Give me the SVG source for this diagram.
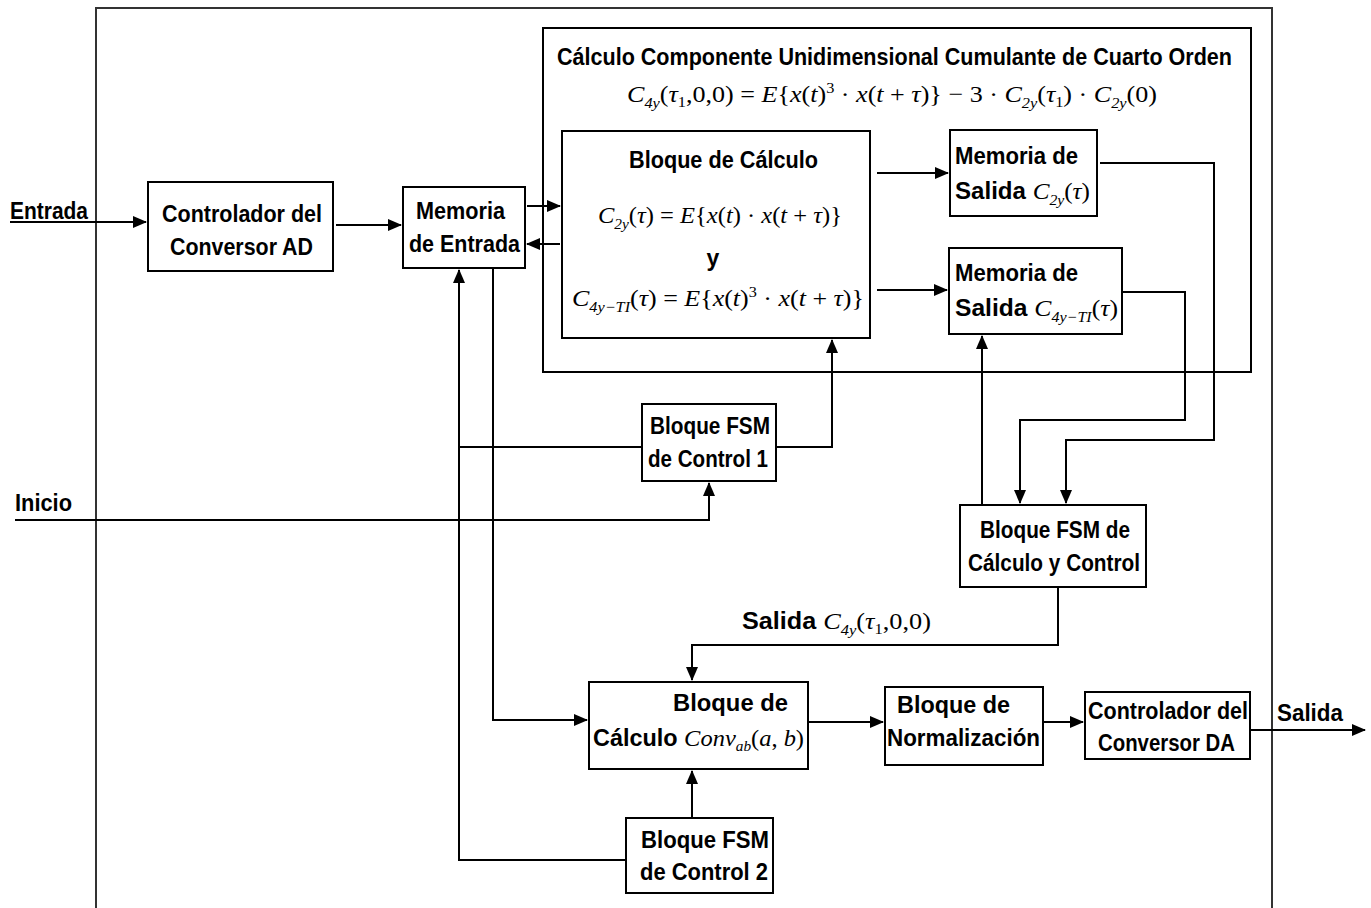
<svg xmlns="http://www.w3.org/2000/svg" width="1371" height="908" viewBox="0 0 1371 908">
<style>
.box{fill:#fff;stroke:#000;stroke-width:2}
.frame{fill:none;stroke:#333;stroke-width:2}
.c{fill:none;stroke:#000;stroke-width:2}
.t{font-family:"Liberation Sans","Arial Narrow",sans-serif;font-weight:bold;font-size:23px;fill:#000}
.m{font-family:"Liberation Serif","Times New Roman",serif;font-size:24px;font-weight:normal;fill:#000}
.i{font-style:italic;font-weight:normal}
.s{font-family:"Liberation Serif","Times New Roman",serif;font-size:15px;font-style:italic;font-weight:normal}
.sn{font-family:"Liberation Serif","Times New Roman",serif;font-size:15px;font-style:normal;font-weight:normal}
</style>
<defs>
<marker id="ah" markerUnits="userSpaceOnUse" markerWidth="14" markerHeight="12" refX="13" refY="6" orient="auto">
<path d="M0,0 L14,6 L0,12 Z" fill="#000"/>
</marker>
</defs>
<rect width="1371" height="908" fill="#fff"/>
<path class="frame" d="M96,908 V8 H1272 V908"/>
<g id="grupo-cumulante">
<rect class="box" x="543" y="28" width="708" height="344"/>
<text class="t" x="557" y="65" textLength="675" lengthAdjust="spacingAndGlyphs">Cálculo Componente Unidimensional Cumulante de Cuarto Orden</text>
<text class="m" x="627" y="102" textLength="530" lengthAdjust="spacingAndGlyphs"><tspan class="i">C</tspan><tspan class="s" dy="6">4y</tspan><tspan dy="-6">(</tspan><tspan class="i">τ</tspan><tspan class="sn" dy="5">1</tspan><tspan dy="-5">,0,0) = </tspan><tspan class="i">E</tspan><tspan>{</tspan><tspan class="i">x</tspan><tspan>(</tspan><tspan class="i">t</tspan><tspan>)</tspan><tspan class="sn" dy="-9">3</tspan><tspan dy="9"> · </tspan><tspan class="i">x</tspan><tspan>(</tspan><tspan class="i">t</tspan><tspan> + </tspan><tspan class="i">τ</tspan><tspan>)} − 3 · </tspan><tspan class="i">C</tspan><tspan class="s" dy="6">2y</tspan><tspan dy="-6">(</tspan><tspan class="i">τ</tspan><tspan class="sn" dy="5">1</tspan><tspan dy="-5">) · </tspan><tspan class="i">C</tspan><tspan class="s" dy="6">2y</tspan><tspan dy="-6">(0)</tspan></text>
</g>
<g id="controlador-ad">
<rect class="box" x="148" y="182" width="185" height="89"/>
<text class="t" x="162" y="222" textLength="160" lengthAdjust="spacingAndGlyphs">Controlador del</text>
<text class="t" x="170" y="255" textLength="143" lengthAdjust="spacingAndGlyphs">Conversor AD</text>
</g>
<g id="memoria-entrada">
<rect class="box" x="403" y="187" width="122" height="81"/>
<text class="t" x="416" y="219" textLength="89" lengthAdjust="spacingAndGlyphs">Memoria</text>
<text class="t" x="409" y="252" textLength="111" lengthAdjust="spacingAndGlyphs">de Entrada</text>
</g>
<g id="bloque-calculo">
<rect class="box" x="562" y="131" width="308" height="207"/>
<text class="t" x="629" y="168" textLength="189" lengthAdjust="spacingAndGlyphs">Bloque de Cálculo</text>
<text class="m" x="598" y="223" textLength="244" lengthAdjust="spacingAndGlyphs"><tspan class="i">C</tspan><tspan class="s" dy="6">2y</tspan><tspan dy="-6">(</tspan><tspan class="i">τ</tspan><tspan>) = </tspan><tspan class="i">E</tspan><tspan>{</tspan><tspan class="i">x</tspan><tspan>(</tspan><tspan class="i">t</tspan><tspan>) · </tspan><tspan class="i">x</tspan><tspan>(</tspan><tspan class="i">t</tspan><tspan> + </tspan><tspan class="i">τ</tspan><tspan>)}</tspan></text>
<text class="t" x="713" y="266" text-anchor="middle">y</text>
<text class="m" x="572" y="306" textLength="292" lengthAdjust="spacingAndGlyphs"><tspan class="i">C</tspan><tspan class="s" dy="6">4y−TI</tspan><tspan dy="-6">(</tspan><tspan class="i">τ</tspan><tspan>) = </tspan><tspan class="i">E</tspan><tspan>{</tspan><tspan class="i">x</tspan><tspan>(</tspan><tspan class="i">t</tspan><tspan>)</tspan><tspan class="sn" dy="-9">3</tspan><tspan dy="9"> · </tspan><tspan class="i">x</tspan><tspan>(</tspan><tspan class="i">t</tspan><tspan> + </tspan><tspan class="i">τ</tspan><tspan>)}</tspan></text>
</g>
<g id="memoria-salida-c2y">
<rect class="box" x="950" y="130" width="147" height="86"/>
<text class="t" x="955" y="164" textLength="123" lengthAdjust="spacingAndGlyphs">Memoria de</text>
<text class="t" x="955" y="199" textLength="135" lengthAdjust="spacingAndGlyphs">Salida <tspan class="m i">C</tspan><tspan class="s" dy="6">2y</tspan><tspan class="m" dy="-6">(</tspan><tspan class="m i">τ</tspan><tspan class="m">)</tspan></text>
</g>
<g id="memoria-salida-c4y">
<rect class="box" x="949" y="248" width="173" height="86"/>
<text class="t" x="955" y="281" textLength="123" lengthAdjust="spacingAndGlyphs">Memoria de</text>
<text class="t" x="955" y="316" textLength="163" lengthAdjust="spacingAndGlyphs">Salida <tspan class="m i">C</tspan><tspan class="s" dy="6">4y−TI</tspan><tspan class="m" dy="-6">(</tspan><tspan class="m i">τ</tspan><tspan class="m">)</tspan></text>
</g>
<g id="fsm-control-1">
<rect class="box" x="642" y="404" width="134" height="77"/>
<text class="t" x="650" y="434" textLength="120" lengthAdjust="spacingAndGlyphs">Bloque FSM</text>
<text class="t" x="648" y="467" textLength="120" lengthAdjust="spacingAndGlyphs">de Control 1</text>
</g>
<g id="fsm-calculo-control">
<rect class="box" x="960" y="505" width="186" height="82"/>
<text class="t" x="980" y="538" textLength="150" lengthAdjust="spacingAndGlyphs">Bloque FSM de</text>
<text class="t" x="968" y="571" textLength="172" lengthAdjust="spacingAndGlyphs">Cálculo y Control</text>
</g>
<g id="bloque-conv">
<rect class="box" x="589" y="682" width="219" height="87"/>
<text class="t" x="673" y="711" textLength="115" lengthAdjust="spacingAndGlyphs">Bloque de</text>
<text class="t" x="593" y="746" textLength="211" lengthAdjust="spacingAndGlyphs">Cálculo <tspan class="m i">Conv</tspan><tspan class="s" dy="5">ab</tspan><tspan class="m" dy="-5">(</tspan><tspan class="m i">a</tspan><tspan class="m">, </tspan><tspan class="m i">b</tspan><tspan class="m">)</tspan></text>
</g>
<g id="bloque-normalizacion">
<rect class="box" x="885" y="687" width="158" height="78"/>
<text class="t" x="897" y="713" textLength="113" lengthAdjust="spacingAndGlyphs">Bloque de</text>
<text class="t" x="887" y="746" textLength="153" lengthAdjust="spacingAndGlyphs">Normalización</text>
</g>
<g id="controlador-da">
<rect class="box" x="1085" y="692" width="165" height="67"/>
<text class="t" x="1088" y="719" textLength="160" lengthAdjust="spacingAndGlyphs">Controlador del</text>
<text class="t" x="1098" y="751" textLength="137" lengthAdjust="spacingAndGlyphs">Conversor DA</text>
</g>
<g id="fsm-control-2">
<rect class="box" x="626" y="818" width="147" height="75"/>
<text class="t" x="641" y="848" textLength="128" lengthAdjust="spacingAndGlyphs">Bloque FSM</text>
<text class="t" x="640" y="880" textLength="128" lengthAdjust="spacingAndGlyphs">de Control 2</text>
</g>
<g id="etiquetas">
<text class="t" x="10" y="219" textLength="78" lengthAdjust="spacingAndGlyphs">Entrada</text>
<text class="t" x="15" y="511" textLength="57" lengthAdjust="spacingAndGlyphs">Inicio</text>
<text class="t" x="1277" y="721" textLength="66" lengthAdjust="spacingAndGlyphs">Salida</text>
<text class="t" x="742" y="629" textLength="189" lengthAdjust="spacingAndGlyphs">Salida <tspan class="m i">C</tspan><tspan class="s" dy="6">4y</tspan><tspan class="m" dy="-6">(</tspan><tspan class="m i">τ</tspan><tspan class="sn" dy="5">1</tspan><tspan class="m" dy="-5">,0,0)</tspan></text>
</g>
<g id="conectores">
<path class="c" d="M10,222 H146" marker-end="url(#ah)"/>
<path class="c" d="M336,225 H401" marker-end="url(#ah)"/>
<path class="c" d="M527,206 H560" marker-end="url(#ah)"/>
<path class="c" d="M560,244 H527" marker-end="url(#ah)"/>
<path class="c" d="M626,860 H459 V270" marker-end="url(#ah)"/>
<path class="c" d="M642,447 H459"/>
<path class="c" d="M493,268 V720 H587" marker-end="url(#ah)"/>
<path class="c" d="M776,447 H832 V340" marker-end="url(#ah)"/>
<path class="c" d="M15,520 H709 V483" marker-end="url(#ah)"/>
<path class="c" d="M877,173 H948" marker-end="url(#ah)"/>
<path class="c" d="M877,290 H947" marker-end="url(#ah)"/>
<path class="c" d="M1100,163 H1214 V440 H1066 V503" marker-end="url(#ah)"/>
<path class="c" d="M1122,292 H1185 V420 H1020 V503" marker-end="url(#ah)"/>
<path class="c" d="M982,505 V336" marker-end="url(#ah)"/>
<path class="c" d="M1058,587 V645 H692 V680" marker-end="url(#ah)"/>
<path class="c" d="M808,722 H883" marker-end="url(#ah)"/>
<path class="c" d="M1043,722 H1083" marker-end="url(#ah)"/>
<path class="c" d="M1250,730 H1365" marker-end="url(#ah)"/>
<path class="c" d="M692,818 V771" marker-end="url(#ah)"/>
</g>
</svg>
